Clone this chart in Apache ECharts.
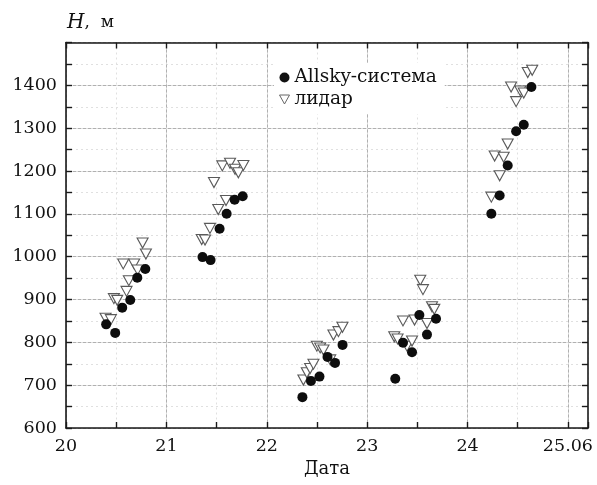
<!DOCTYPE html>
<html>
<head>
<meta charset="utf-8">
<script src="https://cdn.jsdelivr.net/npm/echarts@6/dist/echarts.min.js"></script>
<style>
html,body{margin:0;padding:0;background:#fff;}
#chart{width:597px;height:485px;}
</style>
</head>
<body>
<div id="chart"></div>
<script>
// --- data ---
const seriesNames = ['Allsky-система', 'лидар'];
const xTickLabels = {20: '20', 21: '21', 22: '22', 23: '23', 24: '24', 25: '25.06'};
const yTickLabels = [600, 700, 800, 900, 1000, 1100, 1200, 1300, 1400];

const allskyDay20 = [[20.40, 842], [20.49, 822], [20.56, 881], [20.64, 899], [20.71, 951], [20.79, 971]];
const allskyDay21 = [[21.36, 999], [21.44, 992], [21.53, 1065], [21.60, 1100], [21.68, 1133], [21.76, 1141]];
const allskyDay22 = [[22.355, 672], [22.44, 710], [22.525, 720], [22.605, 766], [22.68, 752], [22.755, 794]];
const allskyDay23 = [[23.28, 715], [23.357, 799], [23.447, 777], [23.52, 864], [23.596, 818], [23.686, 855]];
const allskyDay24 = [[24.237, 1100], [24.32, 1143], [24.40, 1213], [24.484, 1293], [24.56, 1308], [24.636, 1396]];

const lidarDay20 = [[20.394, 856], [20.447, 853], [20.477, 902], [20.51, 898], [20.603, 919], [20.626, 944], [20.57, 983], [20.679, 983], [20.713, 969], [20.763, 1032], [20.796, 1006]];
const lidarDay21 = [[21.352, 1040], [21.385, 1039], [21.434, 1066], [21.474, 1173], [21.517, 1110], [21.557, 1212], [21.594, 1131], [21.634, 1218], [21.684, 1204], [21.717, 1196], [21.767, 1213]];
const lidarDay22 = [[22.365, 712], [22.399, 729], [22.432, 739], [22.465, 749], [22.499, 791], [22.532, 787], [22.565, 782], [22.632, 759], [22.664, 817], [22.714, 825], [22.754, 835]];
const lidarDay23 = [[23.27, 813], [23.303, 808], [23.397, 791], [23.447, 803], [23.357, 850], [23.472, 852], [23.596, 844], [23.529, 945], [23.556, 923], [23.646, 883], [23.669, 877]];
const lidarDay24 = [[24.237, 1139], [24.27, 1235], [24.32, 1189], [24.36, 1232], [24.40, 1263], [24.434, 1396], [24.484, 1362], [24.526, 1387], [24.56, 1382], [24.60, 1430], [24.644, 1435]];

const allsky = [].concat(allskyDay20, allskyDay21, allskyDay22, allskyDay23, allskyDay24);
const lidar = [].concat(lidarDay20, lidarDay21, lidarDay22, lidarDay23, lidarDay24);

const FONT = 'DejaVu Serif';
const triPath = 'path://M0,0L10,0L5,9Z';

const chart = echarts.init(document.getElementById('chart'), null, {renderer: 'canvas'});

const axisLine = {show: true, lineStyle: {color: '#1a1a1a', width: 1.6}};
const tick = {show: true, inside: true, length: 6, lineStyle: {color: '#1a1a1a', width: 1.4}};

chart.setOption({
  backgroundColor: '#fff',
  animation: false,
  grid: {left: 66, right: 9, top: 42.5, bottom: 57, containLabel: false},
  graphic: [{
    type: 'text', left: 67, top: 13,
    style: {
      text: '{i|H}{n|,  м}',
      rich: {
        i: {fontFamily: FONT, fontStyle: 'italic', fontSize: 20, fill: '#111'},
        n: {fontFamily: FONT, fontSize: 17, fill: '#111'}
      }
    }
  }],
  legend: {
    orient: 'vertical', left: 274, top: 63,
    padding: [5, 8, 5, 5],
    backgroundColor: '#fff',
    itemWidth: 10, itemHeight: 10, itemGap: 3,
    textStyle: {fontFamily: FONT, fontSize: 18.5, color: '#111'},
    data: [
      {name: seriesNames[0], icon: 'circle', itemStyle: {color: '#111'}},
      {name: seriesNames[1], icon: triPath, itemStyle: {color: '#fff', borderColor: '#666', borderWidth: 1}}
    ]
  },
  xAxis: [{
    type: 'value', position: 'bottom', min: 20, max: 25.2, interval: 0.5,
    name: 'Дата', nameLocation: 'middle', nameGap: 32,
    nameTextStyle: {fontFamily: FONT, fontSize: 18, color: '#111'},
    axisLine: axisLine, axisTick: tick,
    axisLabel: {
      interval: 0, margin: 9, fontFamily: FONT, fontSize: 17.5, color: '#111',
      formatter: v => { const r = Math.round(v); return (Math.abs(v - r) < 1e-6 && xTickLabels[r]) ? xTickLabels[r] : ''; }
    },
    splitLine: {show: true, lineStyle: {color: ['#b0b0b0', 'rgba(0,0,0,0)'], width: 1, type: 'solid'}}
  }, {
    type: 'value', position: 'top', min: 20, max: 25.2, interval: 0.5,
    axisLine: axisLine, axisTick: tick, axisLabel: {show: false},
    splitLine: {show: true, lineStyle: {color: '#e0e0e0', width: 1, type: [2, 3]}}
  }],
  yAxis: [{
    type: 'value', position: 'left', min: 600, max: 1500, interval: 50,
    axisLine: axisLine, axisTick: tick,
    axisLabel: {
      interval: 0, margin: 9, fontFamily: FONT, fontSize: 17.5, color: '#111',
      formatter: v => yTickLabels.indexOf(v) >= 0 ? String(v) : ''
    },
    splitLine: {show: true, lineStyle: {color: ['#b0b0b0', 'rgba(0,0,0,0)'], width: 1, type: 'solid'}}
  }, {
    type: 'value', position: 'right', min: 600, max: 1500, interval: 50,
    axisLine: axisLine, axisTick: tick, axisLabel: {show: false},
    splitLine: {show: true, lineStyle: {color: '#e0e0e0', width: 1, type: [2, 3]}}
  }],
  series: [{
    name: seriesNames[1], type: 'scatter', xAxisIndex: 0, yAxisIndex: 0,
    symbol: triPath, symbolSize: [11, 10],
    itemStyle: {color: '#fff', borderColor: '#5a5a5a', borderWidth: 1.1, opacity: 1},
    data: lidar
  }, {
    name: seriesNames[0], type: 'scatter', xAxisIndex: 0, yAxisIndex: 0,
    symbol: 'circle', symbolSize: 10,
    itemStyle: {color: '#0d0d0d', opacity: 1},
    data: allsky
  }]
});
</script>
</body>
</html>
